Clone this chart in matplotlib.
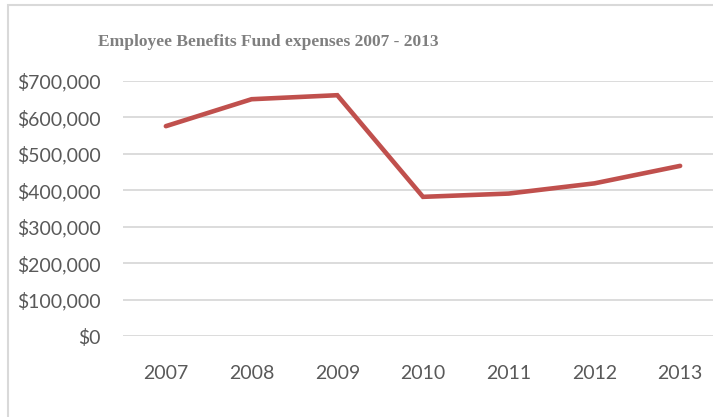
import matplotlib.pyplot as plt
from matplotlib.patches import Rectangle
from matplotlib.ticker import FuncFormatter

years = ['2007', '2008', '2009', '2010', '2011', '2012', '2013']
expenses = [576000, 650000, 661000, 382000, 391000, 419000, 467000]

W, H = 713, 417
fig = plt.figure(figsize=(W / 100, H / 100), dpi=100)

# chart area outline (cropped on the right and bottom)
fig.patches.append(Rectangle((8 / W, -0.1), 1.2, 1.1 - 5 / H, transform=fig.transFigure,
                             fill=False, edgecolor='#d9d9d9', linewidth=1.5))

ax = fig.add_axes([123 / W, 1 - 336 / H, 600 / W, 255 / H])
x = range(len(years))
ax.plot(x, expenses, color='#c0504d', linewidth=3.3, solid_capstyle='round', solid_joinstyle='miter', zorder=3)

ax.set_xlim(-0.5, 6.5)
ax.set_ylim(0, 700000)
ax.set_yticks(range(0, 700001, 100000))
ax.yaxis.set_major_formatter(FuncFormatter(lambda v, p: '${:,.0f}'.format(v)))
ax.set_xticks(list(x))
ax.set_xticklabels(years)

ax.grid(axis='y', color='#d9d9d9', linewidth=1.3)
ax.set_axisbelow(True)
for s in ax.spines.values():
    s.set_visible(False)
ax.tick_params(length=0, labelsize=14, labelcolor='#595959')
ax.tick_params(axis='y', pad=16)
ax.tick_params(axis='x', pad=21)
for lbl in ax.get_xticklabels() + ax.get_yticklabels():
    lbl.set_family('Lato')

fig.text(268 / W, 1 - 42 / H, 'Employee Benefits Fund expenses 2007 - 2013', ha='center', va='center',
         family='Liberation Serif', fontweight='bold', fontsize=12.5, color='#7f7f7f')

fig.savefig('out.png', dpi=100)
